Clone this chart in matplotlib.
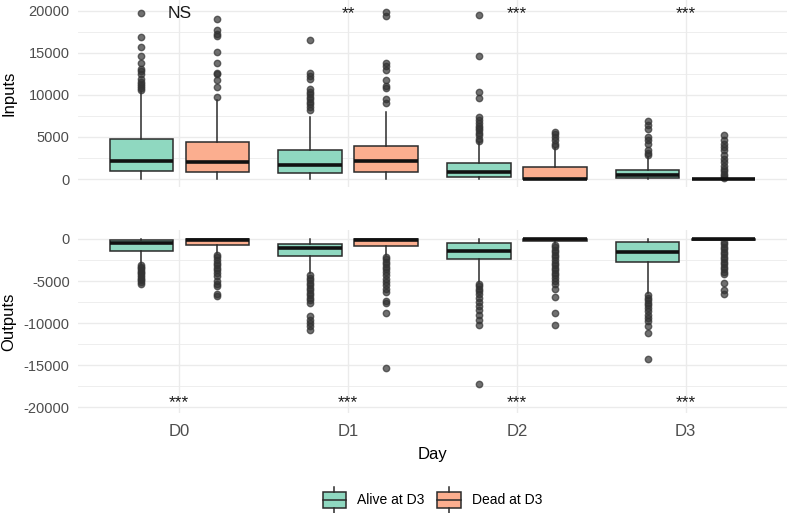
import matplotlib
matplotlib.use("Agg")
import matplotlib.pyplot as plt
from matplotlib.patches import Rectangle, Patch
from matplotlib.lines import Line2D
from matplotlib.legend_handler import HandlerBase

plt.rcParams['font.family'] = ['Liberation Sans', 'DejaVu Sans']
plt.rcParams['axes.unicode_minus'] = False

# %% data
days = ['D0', 'D1', 'D2', 'D3']
groups = ['Alive at D3', 'Dead at D3']

# Inputs panel
in_alive_q1 = [1000, 680, 200, 120]
in_alive_med = [2190, 1710, 800, 520]
in_alive_q3 = [4780, 3470, 1910, 1120]
in_alive_lo = [0, 0, 0, 0]
in_alive_hi = [10500, 7400, 4400, 2600]
in_alive_out = [
    [19700, 16850, 15650, 14650, 13750, 13100, 12800, 12450, 11950, 11550,
     11300, 11050, 10850, 10650],
    [16600, 12600, 12300, 11900, 10700, 10400, 10100, 9800, 9500, 9200,
     8900, 8600, 8200],
    [19500, 14650, 10350, 9650, 7350, 7000, 6650, 6350, 6100, 5800, 5450,
     5200, 4800, 4500],
    [6900, 6400, 6000, 5000, 4600, 4200, 3400, 3100, 2800],
]
in_dead_q1 = [800, 800, 0, 0]
in_dead_med = [2070, 2110, 0, 0]
in_dead_q3 = [4380, 3900, 1470, 0]
in_dead_lo = [0, 0, 0, 0]
in_dead_hi = [9400, 8000, 3700, 0]
in_dead_out = [
    [19050, 17700, 17250, 17000, 15100, 13850, 12650, 12450, 11750, 10950,
     9750],
    [19900, 19400, 13750, 13400, 13000, 11800, 11100, 10800, 9500, 9000],
    [5600, 5300, 5000, 4600, 4200, 3900],
    [5200, 4650, 4200, 3800, 3400, 2900, 2400, 2000, 1600, 1200, 900, 600,
     300, 100],
]

# Outputs panel
out_alive_q1 = [-1390, -2020, -2420, -2700]
out_alive_med = [-520, -1110, -1430, -1510]
out_alive_q3 = [-120, -560, -520, -360]
out_alive_lo = [-3000, -4100, -5100, -6400]
out_alive_hi = [0, 0, 0, 0]
out_alive_out = [
    [-3100, -3300, -3500, -3700, -3900, -4100, -4300, -4500, -4700, -4900,
     -5100, -5300],
    [-4300, -4600, -4900, -5200, -5500, -5800, -6100, -6400, -6700, -7000,
     -7300, -7600, -9200, -9600, -10000, -10400, -10800],
    [-5300, -5600, -5900, -6200, -6600, -7000, -7500, -8000, -8500, -9000,
     -9600, -10200, -17300],
    [-6700, -7000, -7300, -7600, -7900, -8200, -8600, -9000, -9400, -9800,
     -10300, -11200, -14300],
]
out_dead_q1 = [-720, -790, -200, -80]
out_dead_med = [-150, -120, -50, -20]
out_dead_q3 = [0, 0, 0, 0]
out_dead_lo = [-1700, -1900, -500, -100]
out_dead_hi = [0, 0, 0, 0]
out_dead_out = [
    [-1900, -2200, -2500, -2800, -3100, -3400, -3700, -4000, -4400, -5000,
     -5300, -5600, -6500, -6800],
    [-2100, -2400, -2700, -3000, -3300, -3600, -3900, -4300, -4700, -5100,
     -5500, -6000, -6300, -7400, -7600, -8800, -15300],
    [-700, -1000, -1300, -1600, -1900, -2200, -2500, -2800, -3100, -3400,
     -3700, -4000, -4300, -4600, -5000, -5300, -6000, -6900, -8800, -10200],
    [-300, -600, -900, -1200, -1500, -1800, -2100, -2400, -2700, -3000,
     -3300, -3600, -3900, -4200, -5200, -6100, -6600],
]

top_labels = ['NS', '**', '***', '***']
bottom_labels = ['***', '***', '***', '***']

# %% styling
ALIVE = '#8FD8C0'
DEAD = '#FBAE8F'
EDGE = '#2b2b2b'
GRID = '#EBEBEB'
TICK_COL = '#4D4D4D'


def make_stats(q1, med, q3, lo, hi, out):
    return [dict(q1=q1[i], med=med[i], q3=q3[i], whislo=lo[i], whishi=hi[i],
                 fliers=out[i]) for i in range(len(q1))]


def draw_boxes(ax, stats, positions, colour):
    ax.bxp(stats, positions=positions, widths=0.375, patch_artist=True,
           showcaps=False,
           boxprops=dict(facecolor=colour, edgecolor=EDGE, linewidth=1.1),
           medianprops=dict(color='#111111', linewidth=2.6,
                            solid_capstyle='butt'),
           whiskerprops=dict(color=EDGE, linewidth=1.1),
           flierprops=dict(marker='o', markerfacecolor='#333333',
                           markeredgecolor='#333333', markersize=4.6,
                           alpha=0.7, linestyle='none'))


def style_axis(ax, ylim, major, minor):
    ax.set_xlim(0.4, 4.6)
    ax.set_ylim(*ylim)
    ax.set_xticks(range(1, len(days) + 1))
    ax.set_yticks(major)
    ax.set_yticks(minor, minor=True)
    ax.grid(True, which='major', color=GRID, linewidth=1.0)
    ax.grid(True, which='minor', axis='y', color=GRID, linewidth=0.6)
    ax.set_axisbelow(True)
    for s in ax.spines.values():
        s.set_visible(False)
    ax.tick_params(which='both', length=0)
    ax.tick_params(axis='y', labelsize=10.5, labelcolor=TICK_COL, pad=6)
    ax.tick_params(axis='x', labelsize=12, labelcolor=TICK_COL, pad=8)


class BoxKey(HandlerBase):
    # little boxplot glyph for the legend keys
    def create_artists(self, legend, orig_handle, xdescent, ydescent,
                       width, height, fontsize, trans):
        x0, y0 = -xdescent, -ydescent
        fc = orig_handle.get_facecolor()
        r = Rectangle((x0, y0 + 0.16 * height), width, 0.68 * height,
                      facecolor=fc, edgecolor=EDGE, linewidth=1.1,
                      transform=trans)
        m = Line2D([x0, x0 + width], [y0 + 0.5 * height] * 2, color=EDGE,
                   linewidth=1.1, transform=trans)
        w1 = Line2D([x0 + width / 2] * 2, [y0 - 0.05 * height, y0 + 0.16 * height],
                    color=EDGE, linewidth=1.1, transform=trans)
        w2 = Line2D([x0 + width / 2] * 2, [y0 + 0.84 * height, y0 + 1.05 * height],
                    color=EDGE, linewidth=1.1, transform=trans)
        return [r, m, w1, w2]


# %% figure
W, H = 789, 513
fig = plt.figure(figsize=(W / 100, H / 100), dpi=100)
left, right = 78, 787
ax1 = fig.add_axes([left / W, 1 - 187 / H, (right - left) / W, 187 / H])
ax2 = fig.add_axes([left / W, 1 - 413 / H, (right - left) / W, 183 / H])

x = list(range(1, len(days) + 1))
pos_alive = [v - 0.225 for v in x]
pos_dead = [v + 0.225 for v in x]

draw_boxes(ax1, make_stats(in_alive_q1, in_alive_med, in_alive_q3,
                           in_alive_lo, in_alive_hi, in_alive_out),
           pos_alive, ALIVE)
draw_boxes(ax1, make_stats(in_dead_q1, in_dead_med, in_dead_q3,
                           in_dead_lo, in_dead_hi, in_dead_out),
           pos_dead, DEAD)
draw_boxes(ax2, make_stats(out_alive_q1, out_alive_med, out_alive_q3,
                           out_alive_lo, out_alive_hi, out_alive_out),
           pos_alive, ALIVE)
draw_boxes(ax2, make_stats(out_dead_q1, out_dead_med, out_dead_q3,
                           out_dead_lo, out_dead_hi, out_dead_out),
           pos_dead, DEAD)

style_axis(ax1, (-950, 21300), [0, 5000, 10000, 15000, 20000],
           [2500, 7500, 12500, 17500])
style_axis(ax2, (-20700, 1070), [0, -5000, -10000, -15000, -20000],
           [-2500, -7500, -12500, -17500])
ax1.set_xticklabels([])
ax2.set_xticklabels(days)

# significance marks
for xi, lab in zip(x, top_labels):
    ax1.text(xi, 19200, lab, ha='center', va='baseline', fontsize=12.5,
             color='#1a1a1a')
for xi, lab in zip(x, bottom_labels):
    ax2.text(xi, -20000, lab, ha='center', va='baseline', fontsize=12.5,
             color='#1a1a1a')

ax1.set_ylabel('Inputs', fontsize=12)
ax2.set_ylabel('Outputs', fontsize=12)
for ax in (ax1, ax2):
    ax.yaxis.set_label_coords((16 - left) / (right - left), 0.5)
ax2.set_xlabel('Day', fontsize=12, labelpad=6)

handles = [Patch(facecolor=ALIVE), Patch(facecolor=DEAD)]
fig.legend(handles, groups, loc='center', ncol=2, frameon=False,
           bbox_to_anchor=((left + right) / 2 / W, 13 / H), fontsize=10,
           handler_map={Patch: BoxKey()}, handlelength=1.7,
           handleheight=2.2, handletextpad=0.8, columnspacing=0.9)

fig.savefig('out.png', dpi=100)
